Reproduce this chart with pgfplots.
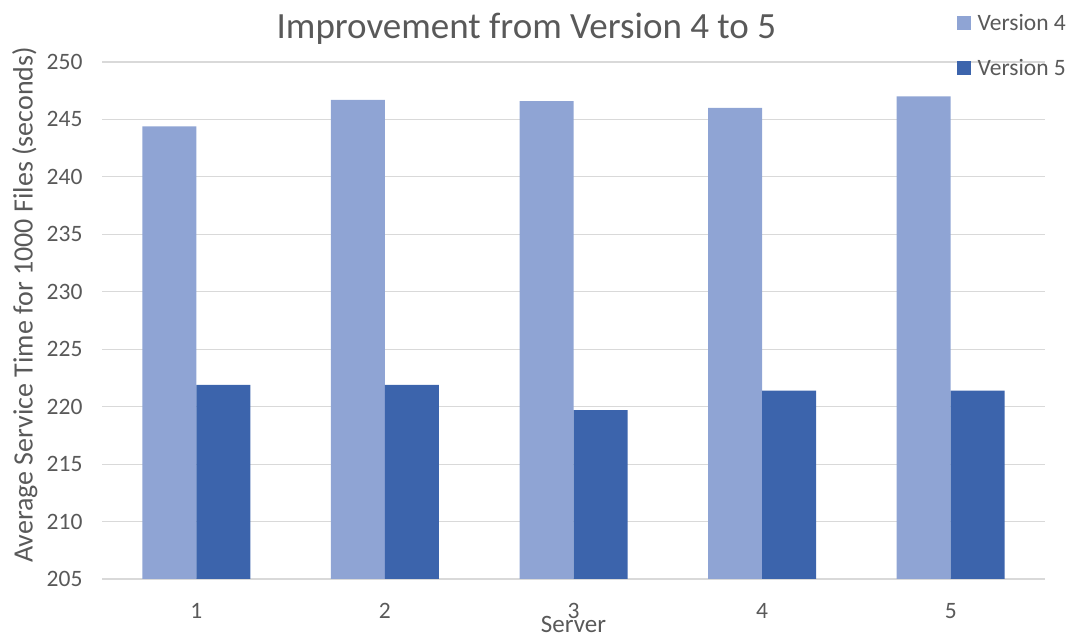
\documentclass[border=0pt]{standalone}
\usepackage{pgfplots}
\pgfplotsset{compat=1.18}
\usepackage{fontspec}
\setmainfont{Carlito}
\definecolor{txt}{HTML}{595959}
\definecolor{gridc}{HTML}{D9D9D9}
\definecolor{vfour}{HTML}{8FA4D4}
\definecolor{vfive}{HTML}{3C64AC}
\begin{document}
\begin{tikzpicture}
\useasboundingbox (0,0) rectangle (1074bp,637bp);
\begin{axis}[
  at={(102bp,58bp)}, anchor=south west,
  scale only axis, width=943bp, height=517bp,
  xmin=0.5, xmax=5.5, ymin=205, ymax=250,
  xtick={1,2,3,4,5}, ytick={205,210,...,250},
  ybar=0pt, bar width=54bp,
  axis line style={draw=none},
  major tick length=0pt,
  ymajorgrids, grid style={gridc, line width=1.2bp},
  tick label style={font=\fontsize{23.5bp}{26bp}\selectfont, text=txt},
  /pgf/number format/assume math mode=true,
  yticklabel style={xshift=-16bp},
  xticklabel style={yshift=-21bp},
  title={Improvement from Version 4 to 5},
  title style={at={(0.45,1.052)}, anchor=center, font=\fontsize{37bp}{42bp}\selectfont, text=txt},
  xlabel={Server},
  xlabel style={at={(0.5,-0.087)}, anchor=center, font=\fontsize{25bp}{28bp}\selectfont, text=txt},
  ylabel={Average Service Time for 1000 Files (seconds)},
  ylabel style={at={(-0.082,0.53)}, anchor=center, font=\fontsize{28bp}{32bp}\selectfont, text=txt},
  legend style={at={(0.903,1.101)}, anchor=north west, draw=none, fill=none,
    font=\fontsize{23.5bp}{26bp}\selectfont, text=txt, row sep=24bp,
    /tikz/every odd column/.append style={column sep=5bp}},
  legend image code/.code={\fill[#1] (0bp,-7bp) rectangle (14bp,7bp);},
]
\addplot[fill=vfour, draw=none] coordinates {(1,244.4) (2,246.7) (3,246.6) (4,246.0) (5,247.0)};
\addplot[fill=vfive, draw=none] coordinates {(1,221.9) (2,221.9) (3,219.7) (4,221.4) (5,221.4)};
\legend{Version 4, Version 5}
\end{axis}
\end{tikzpicture}
\end{document}
